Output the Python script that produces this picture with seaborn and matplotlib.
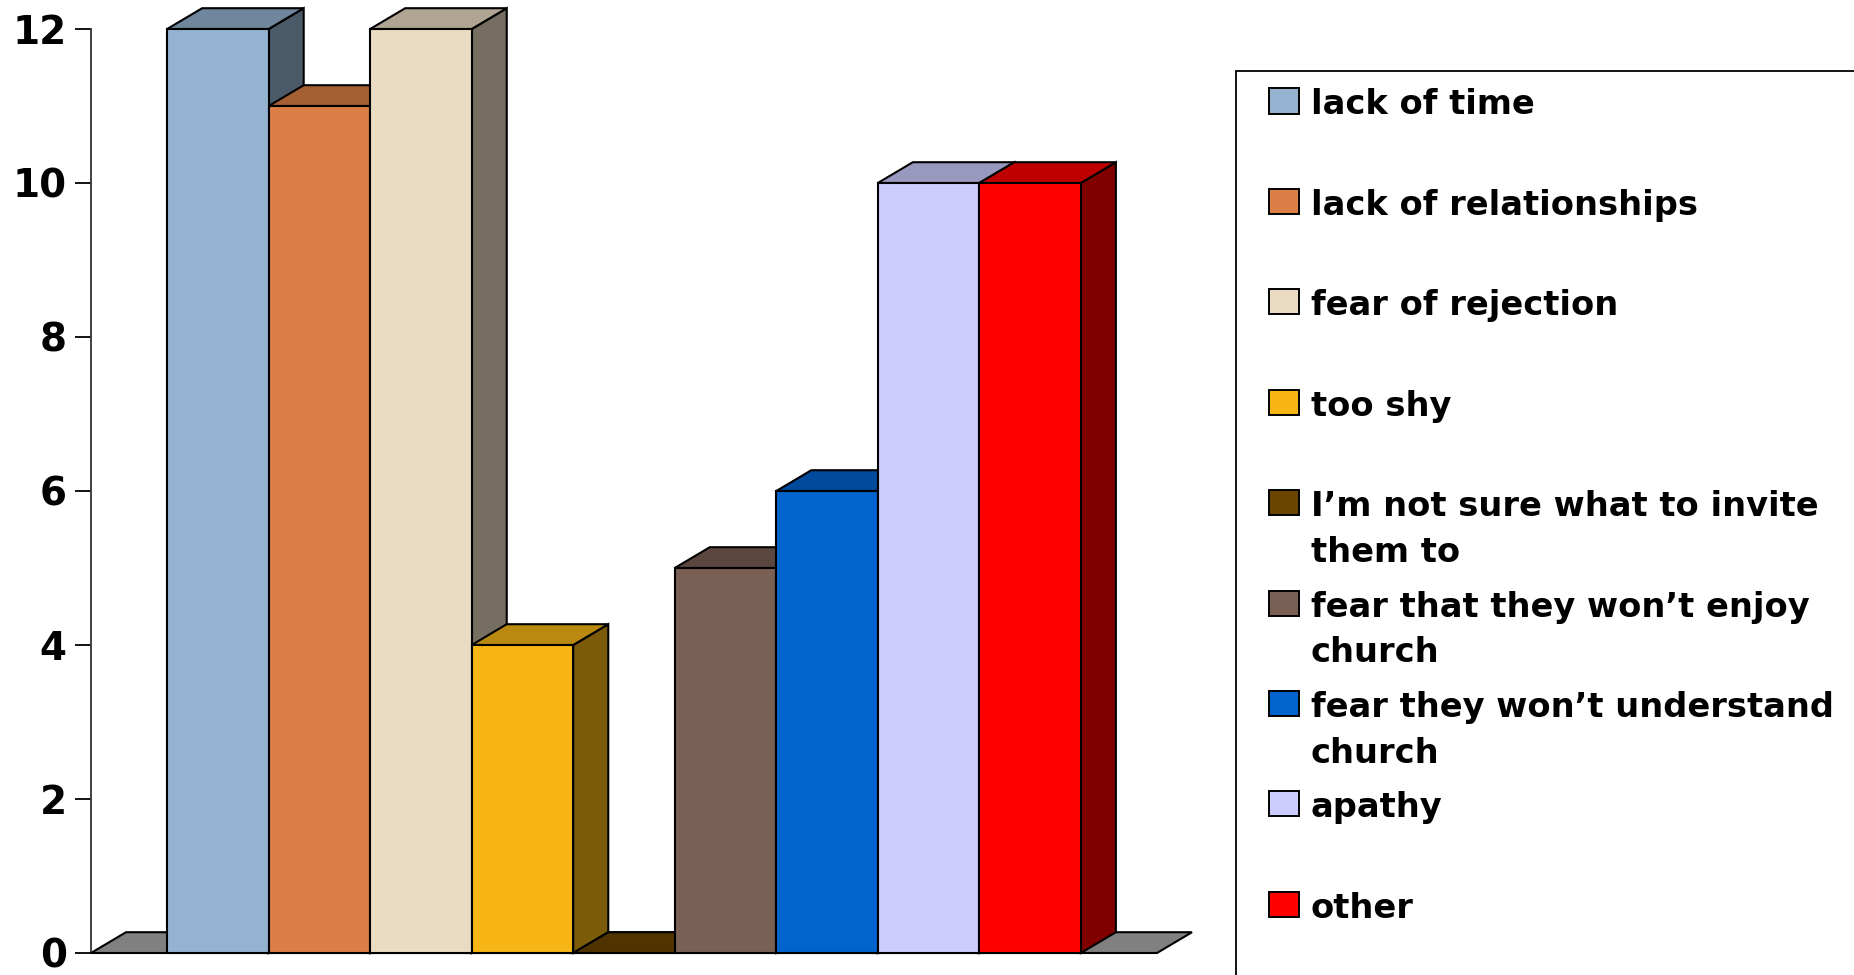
import matplotlib
matplotlib.use("Agg")
import matplotlib.pyplot as plt
import matplotlib.colors as mc
from matplotlib.patches import Polygon, Rectangle
import pandas as pd
import seaborn as sns

categories = ["lack of time", "lack of relationships", "fear of rejection", "too shy",
              "I\u2019m not sure what to invite them to", "fear that they won\u2019t enjoy church",
              "fear they won\u2019t understand church", "apathy", "other"]
legend_labels = ["lack of time", "lack of relationships", "fear of rejection", "too shy",
                 "I\u2019m not sure what to invite\nthem to", "fear that they won\u2019t enjoy\nchurch",
                 "fear they won\u2019t understand\nchurch", "apathy", "other"]
values = [12, 11, 12, 4, 0, 5, 6, 10, 10]
colors = ["#95B3D0", "#DC7F47", "#EADCC2", "#F7B615", "#6B4500", "#7A5F55", "#0063CE", "#CCCCFF", "#FF0000"]
y_ticks = [0, 2, 4, 6, 8, 10, 12]

W, H = 1854, 975
sns.set_theme(style="white")
plt.rcParams["font.family"] = ["DejaVu Sans"]
fig = plt.figure(figsize=(W / 100, H / 100), dpi=100, facecolor="white")
L, R, T, B = 91, 1157, 29, 953
ax = fig.add_axes([L / W, 1 - B / H, (R - L) / W, (B - T) / H])
ax.patch.set_visible(False)

df = pd.DataFrame({"cat": categories, "val": values})
EDGE = 1.5
sns.barplot(data=df, x="cat", y="val", hue="cat", palette=colors, hue_order=categories, order=categories,
            width=1, saturation=1, legend=False, edgecolor="black", linewidth=EDGE, ax=ax)
bars = sorted([p for p in ax.patches if p.get_width() > 0], key=lambda p: p.get_x())
ax.set_xlim(-1.25, 9.25)
ax.set_ylim(0, 12)
ax.set_xlabel("")
ax.set_ylabel("")
ax.set_xticks([])
ax.set_yticks(y_ticks)
ax.set_yticklabels([str(v) for v in y_ticks], fontsize=28, fontweight="bold", color="black")
ax.tick_params(axis="y", left=True, length=11.5, width=1.3, color="black", pad=6)
for s in ["top", "right"]:
    ax.spines[s].set_visible(False)
for s in ["left", "bottom"]:
    ax.spines[s].set_color("black")
    ax.spines[s].set_linewidth(1.3)
    ax.spines[s].set_zorder(200)
ax.spines["left"].set_color("#333333")

DX, DY = 0.345, 0.27


def shade(col, f):
    r, g, b = mc.to_rgb(col)
    return (r * f, g * f, b * f)


# floor, drawn under all bars
x0, x1 = ax.get_xlim()
ax.add_patch(Polygon([(x0, 0), (x1, 0), (x1 + DX, DY), (x0 + DX, DY)], closed=True, facecolor="#808080",
                     edgecolor="black", linewidth=EDGE, zorder=1, clip_on=False))

# side and top faces derived from each seaborn bar, painted left to right
for i, (bar, col) in enumerate(zip(bars, colors)):
    xl, w, h = bar.get_x(), bar.get_width(), bar.get_height()
    xr = xl + w
    z = 10 + 3 * i
    if h > 0:
        ax.add_patch(Polygon([(xr, 0), (xr + DX, DY), (xr + DX, h + DY), (xr, h)], closed=True,
                             facecolor=shade(col, 0.5), edgecolor="black", linewidth=EDGE,
                             zorder=z, clip_on=False))
    ax.add_patch(Polygon([(xl, h), (xr, h), (xr + DX, h + DY), (xl + DX, h + DY)], closed=True,
                         facecolor=shade(col, 0.75), edgecolor="black", linewidth=EDGE,
                         zorder=z + 1, clip_on=False))
    bar.set_zorder(z + 2)
    bar.set_clip_on(False)
    if h == 0:
        bar.set_visible(False)


def fx(px):
    return px / W


def fy(py):
    return 1 - py / H


# legend panel, running off the figure as in the reference
fig.add_artist(Rectangle((fx(1235.5), fy(H + 40)), fx(W + 40 - 1235.5), (H + 40 - 71) / H, facecolor="none",
                         edgecolor="black", linewidth=1.3, transform=fig.transFigure))
TOP0, PITCH = 88.5, 100.4
for i, (lab, col) in enumerate(zip(legend_labels, colors)):
    top = TOP0 + PITCH * i
    fig.add_artist(Rectangle((fx(1269), fy(top + 25)), 30 / W, 25 / H, facecolor=col, edgecolor="black",
                             linewidth=1.4, transform=fig.transFigure))
    n = lab.count("\n")
    fig.text(fx(1311), fy(top + 26 + 46 * n), lab, fontsize=24.2, fontweight="bold", color="black",
             ha="left", va="baseline", linespacing=1.5, multialignment="left")

fig.savefig("out.png", dpi=100)
